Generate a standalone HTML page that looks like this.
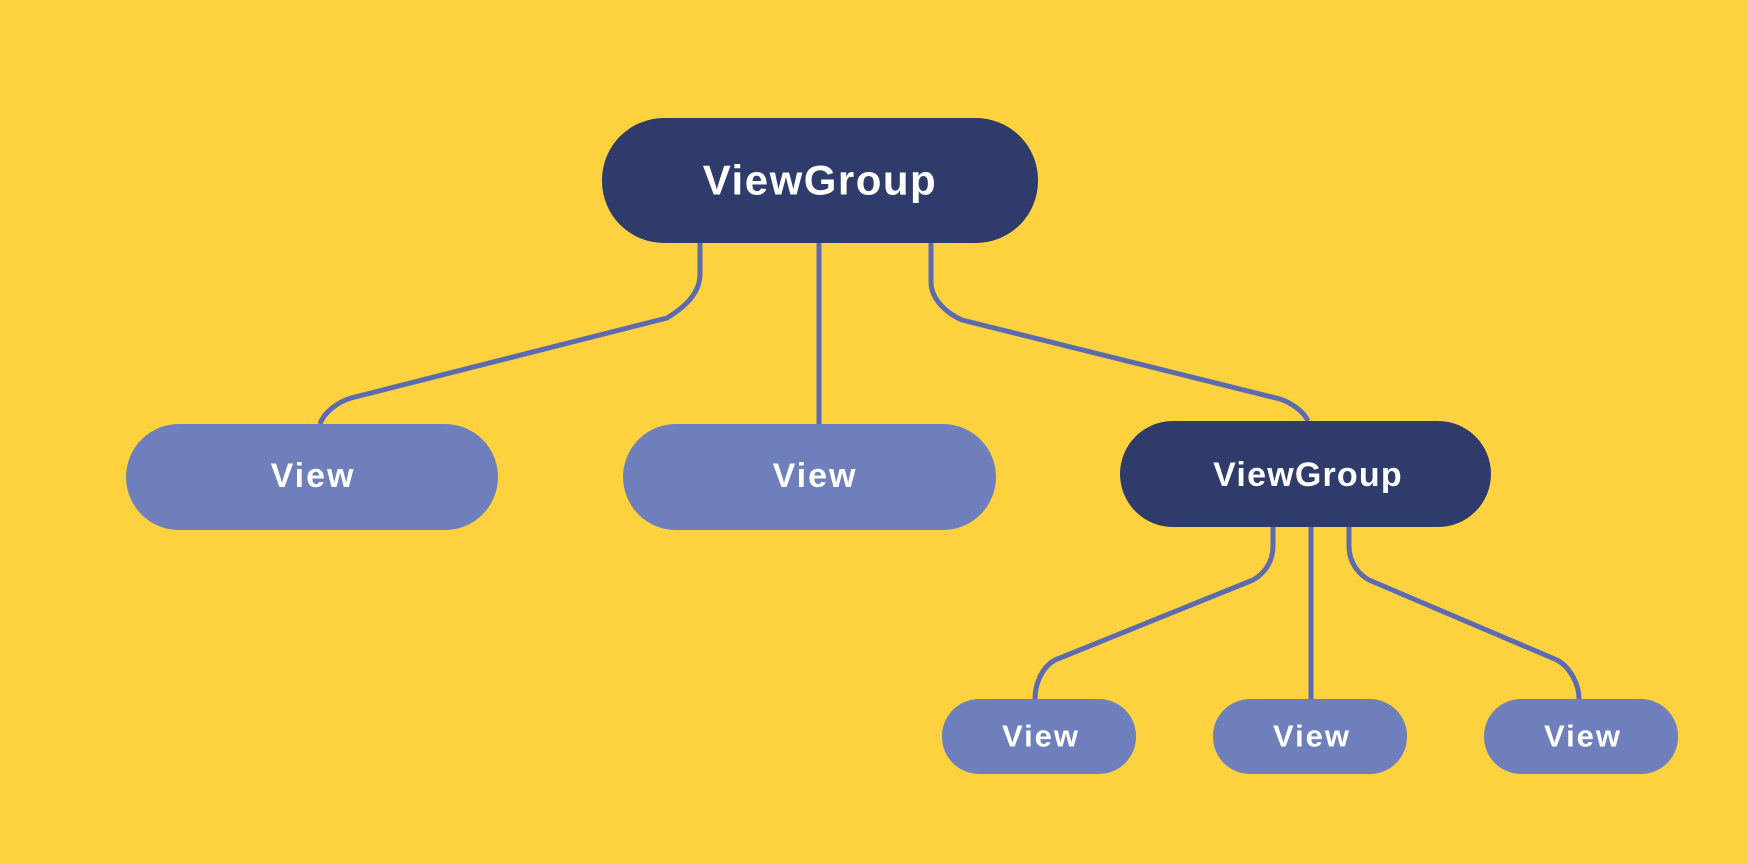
<!DOCTYPE html>
<html><head><meta charset="utf-8"><style>
html,body{margin:0;padding:0;background:#fed23e;}
svg{display:block}
text{font-family:"Liberation Sans",sans-serif;font-weight:bold;fill:#fff;text-anchor:middle;dominant-baseline:central;}
</style></head><body>
<svg width="1748" height="864" viewBox="0 0 1748 864">
<rect width="1748" height="864" fill="#fed23e"/>
<g fill="none" stroke="#5c6bb0" stroke-width="5" stroke-linejoin="round">
<path d="M700 240 V274 C700 296 680 310 667 318 L351 398 C338 402 324 412 320 424"/>
<path d="M819 240 V424"/>
<path d="M931 240 V282 C931 300 948 314 962 320 L1280 399 C1292 403 1304 412 1308 421"/>
<path d="M1273 525 V546 C1273 564 1262 575 1253 580 L1055 660 C1042 667 1035 684 1035 699"/>
<path d="M1311 525 V699"/>
<path d="M1349 525 V546 C1349 564 1360 575 1369 580 L1557 660 C1570 667 1579 684 1579 699"/>
</g>
<rect x="602" y="118" width="436" height="125" rx="62" fill="#2f3b6a"/>
<text x="820" y="180" font-size="42" letter-spacing="1.5">ViewGroup</text>
<rect x="126" y="424" width="372" height="106" rx="53" fill="#6f7fbc"/>
<text x="313" y="476" font-size="34" letter-spacing="2">View</text>
<rect x="623" y="424" width="373" height="106" rx="53" fill="#6f7fbc"/>
<text x="815" y="476" font-size="34" letter-spacing="2">View</text>
<rect x="1120" y="421" width="371" height="106" rx="53" fill="#2f3b6a"/>
<text x="1308" y="475" font-size="34" letter-spacing="1.2">ViewGroup</text>
<rect x="942" y="699" width="194" height="75" rx="37" fill="#6f7fbc"/>
<text x="1041" y="736" font-size="31" letter-spacing="2">View</text>
<rect x="1213" y="699" width="194" height="75" rx="37" fill="#6f7fbc"/>
<text x="1312" y="736" font-size="31" letter-spacing="2">View</text>
<rect x="1484" y="699" width="194" height="75" rx="37" fill="#6f7fbc"/>
<text x="1583" y="736" font-size="31" letter-spacing="2">View</text>
</svg>
</body></html>
